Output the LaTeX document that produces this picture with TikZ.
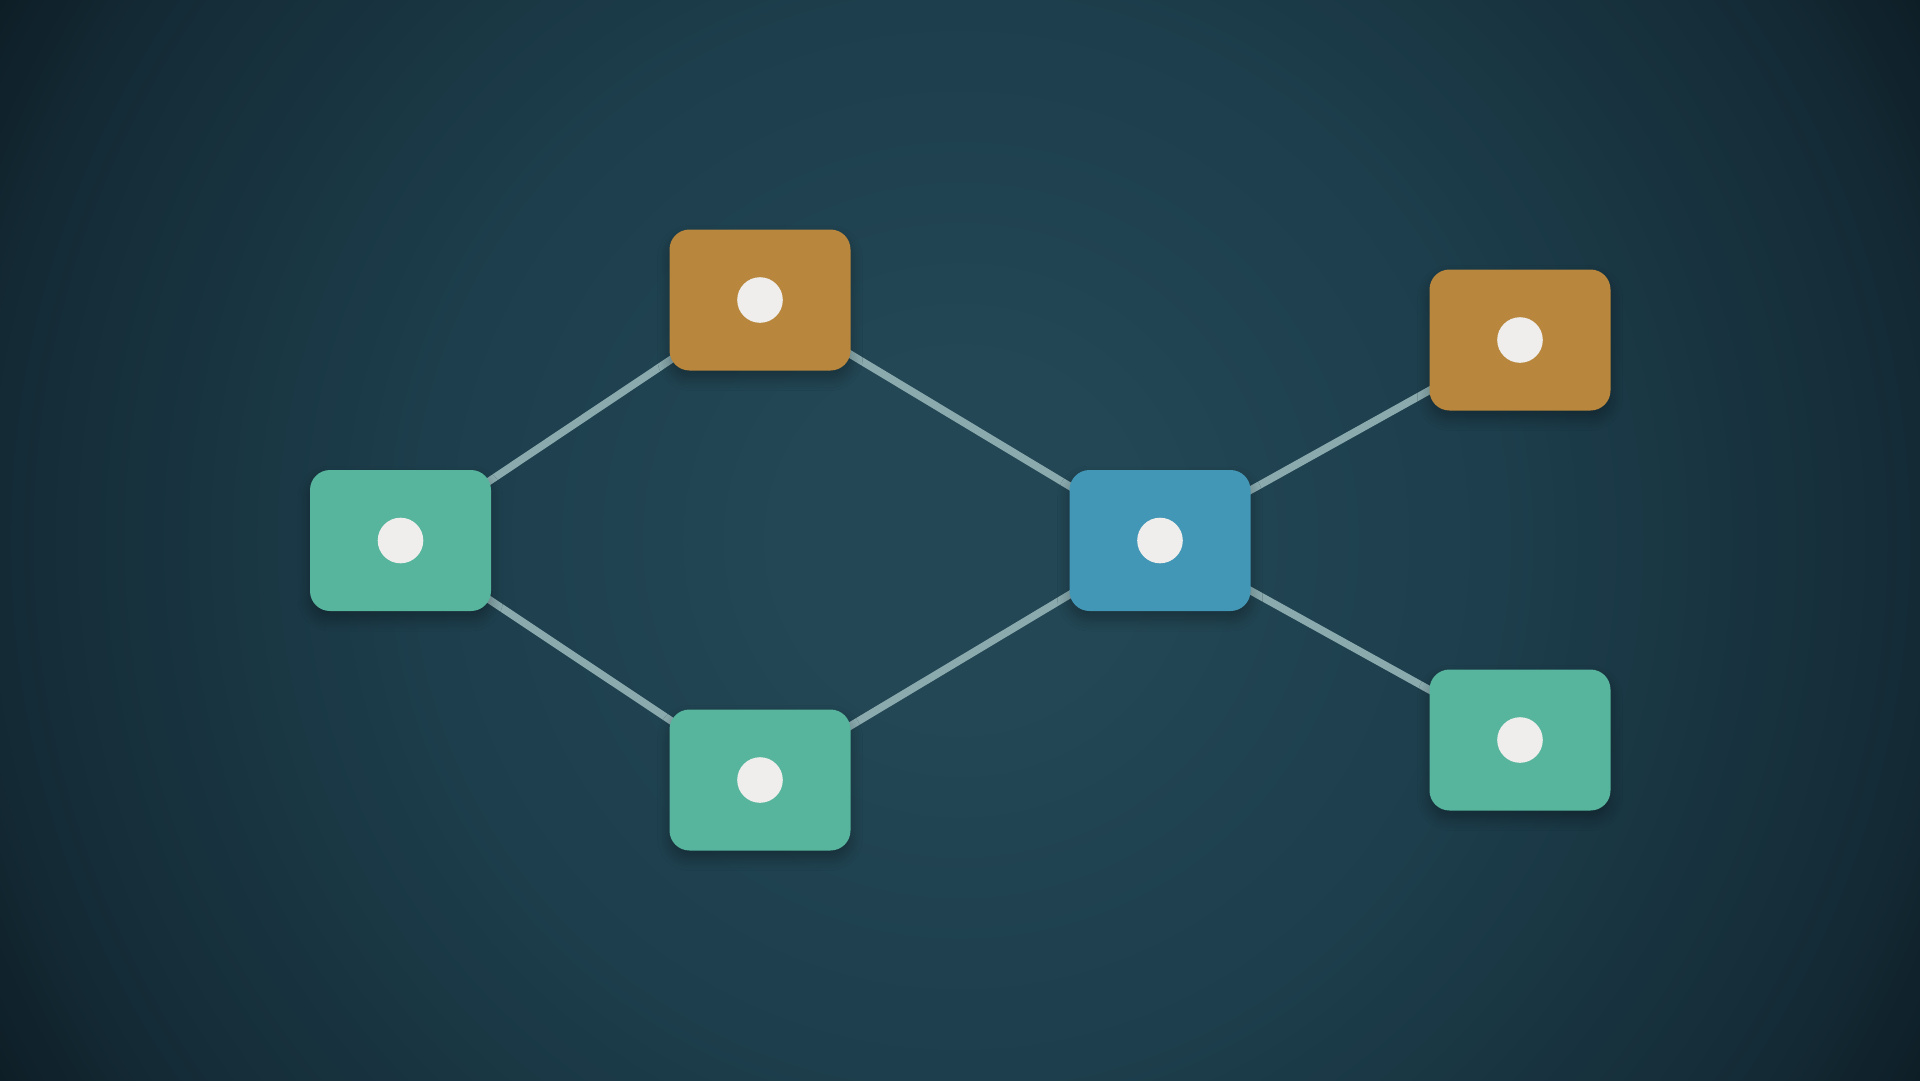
\documentclass[tikz,border=0pt]{standalone}
\usetikzlibrary{shadows.blur}
\definecolor{bgA}{HTML}{234755}
\definecolor{bgB}{HTML}{1D3E4C}
\definecolor{bgC}{HTML}{142B36}
\definecolor{bgD}{HTML}{0E1E27}
\definecolor{tealbox}{HTML}{56B59C}
\definecolor{orangebox}{HTML}{B8863C}
\definecolor{bluebox}{HTML}{4397B6}
\definecolor{edgecol}{HTML}{8AAAAE}
\definecolor{dotcol}{HTML}{EFEEEC}
\pgfdeclareradialshading{vignette}{\pgfpoint{0bp}{0bp}}{color(0bp)=(bgA); color(4bp)=(bgA); color(12.25bp)=(bgB); color(21.8bp)=(bgC); color(25bp)=(bgD); color(50bp)=(bgD)}
\tikzset{
  box/.style={rectangle, rounded corners=20pt, minimum width=181pt, minimum height=141pt, inner sep=0pt, draw=none,
    blur shadow={shadow xshift=0pt, shadow yshift=-8pt, shadow blur steps=10, shadow blur radius=12pt, shadow opacity=30}},
  tealnode/.style={box, fill=tealbox},
  orangenode/.style={box, fill=orangebox},
  bluenode/.style={box, fill=bluebox},
  dot/.style={circle, fill=dotcol, draw=none, minimum size=45.6pt, inner sep=0pt},
  link/.style={draw=edgecol, line width=7.5pt}
}
\begin{document}
\begin{tikzpicture}[x=1pt,y=-1pt]
\begin{scope}
\clip (0,0) rectangle (1920,1080);
\shade[shading=vignette] (960-1101,540-1101) rectangle (960+1101,540+1101);
\end{scope}
\useasboundingbox (0,0) rectangle (1920,1080);
\coordinate (cL) at (400.5,540.5);
\coordinate (cT) at (760,300);
\coordinate (cB) at (760,780);
\coordinate (cC) at (1160,540.5);
\coordinate (cRT) at (1520,340);
\coordinate (cRB) at (1520,740);
\draw[link] (cL) -- (cT);
\draw[link] (cL) -- (cB);
\draw[link] (cT) -- (cC);
\draw[link] (cB) -- (cC);
\draw[link] (cC) -- (cRT);
\draw[link] (cC) -- (cRB);
\node[tealnode] (L) at (cL) {};
\node[orangenode] (T) at (cT) {};
\node[tealnode] (B) at (cB) {};
\node[bluenode] (C) at (cC) {};
\node[orangenode] (RT) at (cRT) {};
\node[tealnode] (RB) at (cRB) {};
\node[dot] (dL) at (L.center) {};
\node[dot] (dT) at (T.center) {};
\node[dot] (dB) at (B.center) {};
\node[dot] (dC) at (C.center) {};
\node[dot] (dRT) at (RT.center) {};
\node[dot] (dRB) at (RB.center) {};
\end{tikzpicture}
\end{document}
